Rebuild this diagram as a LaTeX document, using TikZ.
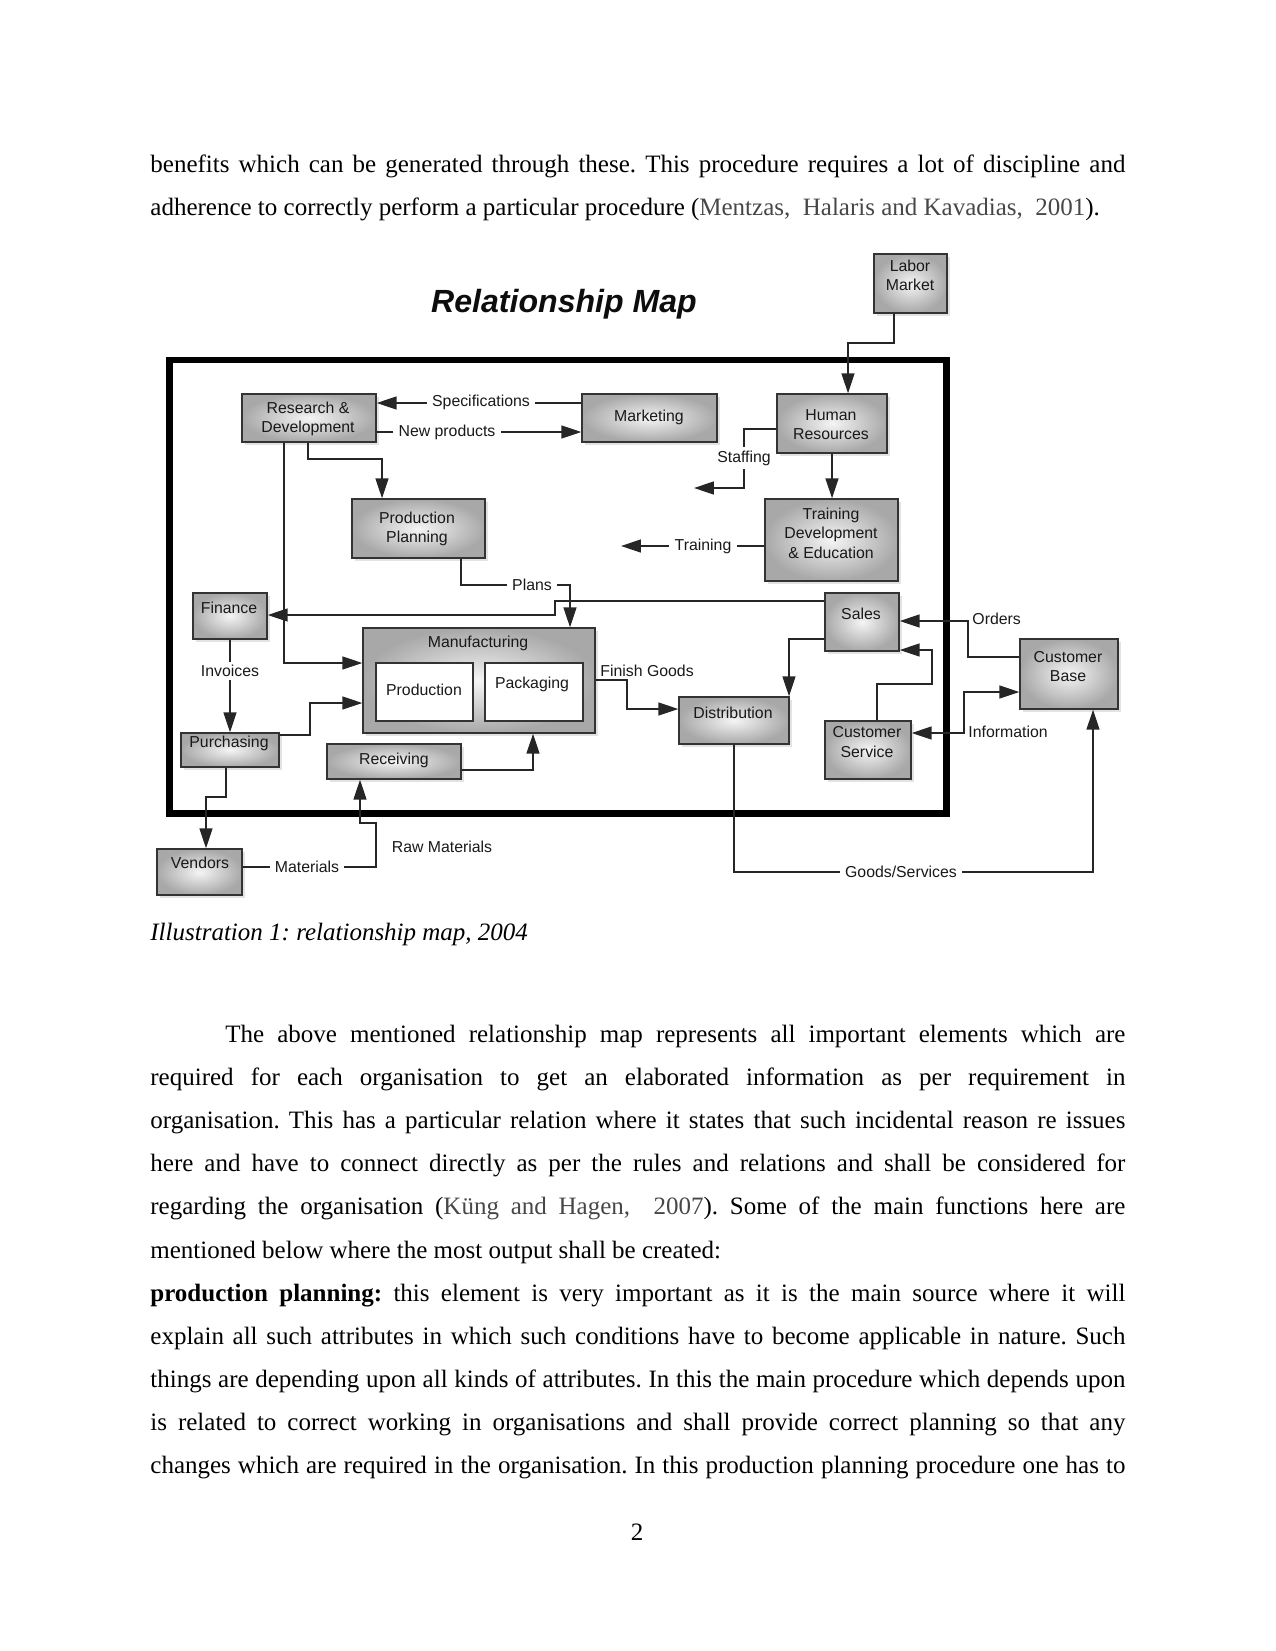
\documentclass[tikz,border=0pt]{standalone}
\usepackage{fontspec}
\setmainfont{Liberation Serif}
\newfontfamily\dsans{Liberation Sans}
\usetikzlibrary{arrows.meta,shadows}

\begin{document}
\frenchspacing
\begin{tikzpicture}[x=0.48pt,y=-0.48pt,
  body/.style={font=\fontsize{12}{14}\selectfont\frenchspacing, inner sep=0pt, anchor=base west},
  box/.style={draw=black!80, line width=0.7pt, inner sep=0pt,
    inner color=black!4, outer color=black!34,
    drop shadow={opacity=0.22, shadow xshift=1.6pt, shadow yshift=-1.6pt}},
  wbox/.style={draw=black!80, line width=0.7pt, inner sep=0pt, fill=white},
  sz/.style 2 args={minimum width=#1*0.48pt, minimum height=#2*0.48pt},
  btxt/.style={font=\dsans\fontsize{7.6}{9.3}\selectfont, align=center, inner sep=0pt, text=black!90},
  ltxt/.style={font=\dsans\fontsize{7.6}{9.3}\selectfont, inner sep=0pt, text=black!90},
  cut/.style={ltxt, fill=white, inner xsep=2.5pt, inner ysep=1.5pt},
  arr/.style={draw=black!85, line width=0.6pt, -{Triangle[length=9.5pt,width=6.2pt]}},
  arrboth/.style={draw=black!85, line width=0.6pt, {Triangle[length=9.5pt,width=6.2pt]}-{Triangle[length=9.5pt,width=6.2pt]}},
  frame/.style={draw=black, line width=2.9pt}
]
\useasboundingbox (0,0) rectangle (1275,1651);

% ---------- body text above ----------
\node[body] (l1) at (150,173) {\makebox[468pt][s]{benefits which can be generated through these. This procedure requires a lot of discipline and}};
\node[body] (l2) at (150,216) {adherence to correctly perform a particular procedure ({\color{black!72}Mentzas,\ \ Halaris and Kavadias,\ \ 2001}).};

% ---------- diagram ----------
\node[font=\dsans\bfseries\itshape\fontsize{15.4}{18}\selectfont, inner sep=0pt, anchor=base, text=black!95] (title) at (564,312) {Relationship Map};

\draw[frame] (169.5,360) rectangle (946.5,813.5);

% boxes
\node[box, sz={134}{48}] (rd) at (309,418) {};
\node[box, sz={135}{48}] (mkt) at (649.5,418) {};
\node[box, sz={110}{59}] (hr) at (832,423.5) {};
\node[box, sz={73}{59}] (lab) at (910.5,283.5) {};
\node[box, sz={133}{59}] (pp) at (418.5,528.5) {};
\node[box, sz={133}{82}] (tde) at (831.5,540) {};
\node[box, sz={74}{46}] (fin) at (230,616) {};
\node[box, sz={74}{58}] (sales) at (862,622) {};
\node[box, sz={232}{105}] (mfg) at (479,680.5) {};
\node[wbox, sz={97}{58}] (prod) at (424.5,692) {};
\node[wbox, sz={98}{58}] (pack) at (534,692) {};
\node[box, sz={110}{47}] (dist) at (734,720.5) {};
\node[box, sz={98}{70}] (cb) at (1069,674) {};
\node[box, sz={86}{58}] (cs) at (868,750) {};
\node[box, sz={98}{34}] (pur) at (230,750) {};
\node[box, sz={134}{35}] (rec) at (394,761.5) {};
\node[box, sz={85}{46}] (ven) at (199.5,872) {};

% box texts
\node[btxt] (rdT) at (308,419) {Research \&\\Development};
\node[btxt] (mktT) at (649,417) {Marketing};
\node[btxt] (hrT) at (831,424.5) {Human\\Resources};
\node[btxt] (labT) at (910,275.5) {Labor\\Market};
\node[btxt] (ppT) at (417,529) {Production\\Planning};
\node[btxt] (tdeT) at (831,533) {Training\\Development\\\& Education};
\node[btxt] (finT) at (229,608) {Finance};
\node[btxt] (salesT) at (861,614) {Sales};
\node[btxt] (mfgT) at (478,643) {Manufacturing};
\node[btxt] (prodT) at (424,690) {Production};
\node[btxt] (packT) at (532,684) {Packaging};
\node[btxt] (distT) at (733,713) {Distribution};
\node[btxt] (cbT) at (1068,666.5) {Customer\\Base};
\node[btxt] (csT) at (867,742) {Customer\\Service};
\node[btxt] (purT) at (229,743) {Purchasing};
\node[btxt] (recT) at (394,760) {Receiving};
\node[btxt] (venT) at (200,863) {Vendors};

% free ends
\coordinate (stafEnd) at (694,488);
\coordinate (trEnd) at (621,546);

% connectors
\draw[arr] (mkt.west |- 0,403) -- (rd.east |- 0,403);
\draw[arr] (rd.east |- 0,432) -- (mkt.west |- 0,432);
\draw[arr] (rd.south -| 308,0) -- (308,459) -- (382,459) -- (pp.north -| 382,0);
\draw[arr] (rd.south -| 284,0) -- (284,663) -- (mfg.west |- 0,663);
\draw[arr] (sales.west |- 0,601) -- (555,601) -- (555,615) -- (fin.east |- 0,615);
\draw[arr] (pp.south -| 461,0) -- (461,585) -- (570,585) -- (mfg.north -| 570,0);
\draw[arr] (lab.south -| 894,0) -- (894,343) -- (848,343) -- (hr.north -| 848,0);
\draw[arr] (hr.south -| 832,0) -- (tde.north -| 832,0);
\draw[arr] (hr.west |- 0,429) -- (744,429) -- (744,488) -- (stafEnd);
\draw[arr] (tde.west |- 0,546) -- (trEnd);
\draw[arr] (fin.south -| 230,0) -- (pur.north -| 230,0);
\draw[arr] (pur.east |- 0,735) -- (310,735) -- (310,703) -- (mfg.west |- 0,703);
\draw[arr] (pur.south -| 226,0) -- (226,797) -- (206,797) -- (ven.north -| 206,0);
\draw[arr] (ven.east |- 0,867) -- (376,867) -- (376,823) -- (360,823) -- (rec.south -| 360,0);
\draw[arr] (rec.east |- 0,770) -- (533,770) -- (mfg.south -| 533,0);
\draw[arr] (mfg.east |- 0,680) -- (627,680) -- (627,709) -- (dist.west |- 0,709);
\draw[arr] (sales.west |- 0,639) -- (789,639) -- (dist.north -| 789,0);
\draw[arr] (cs.north -| 877,0) -- (877,684) -- (932,684) -- (932,650) -- (sales.east |- 0,650);
\draw[arr] (cb.west |- 0,657) -- (968,657) -- (968,621) -- (sales.east |- 0,621);
\draw[arrboth] (cs.east |- 0,733) -- (964,733) -- (964,692) -- (cb.west |- 0,692);
\draw[arr] (dist.south -| 734,0) -- (734,872) -- (1093,872) -- (cb.south -| 1093,0);

% connector labels
\node[cut] (specL) at (481,402) {Specifications};
\node[cut] (newL) at (447,432) {New products};
\node[cut] (stafL) at (744,458) {Staffing};
\node[cut] (trL) at (703,546) {Training};
\node[cut] (plansL) at (532,585) {Plans};
\node[cut] (invL) at (230,671) {Invoices};
\node[ltxt, anchor=west] (fgL) at (600,671) {Finish Goods};
\node[ltxt, anchor=west] (ordL) at (972,619) {Orders};
\node[ltxt, anchor=west] (infL) at (968,732) {Information};
\node[cut] (matL) at (307,867) {Materials};
\node[ltxt] (rawL) at (442,847) {Raw Materials};
\node[cut] (gsL) at (901,872) {Goods/Services};

% ---------- caption ----------
\node[body] (cap) at (150,940) {\itshape Illustration 1: relationship map, 2004};

% ---------- body text below ----------
\node[body] (p1) at (225,1042.5) {\makebox[432pt][s]{The above mentioned relationship map represents all important elements which are}};
\node[body] (p2) at (150,1085.6) {\makebox[468pt][s]{required for each organisation to get an elaborated information as per requirement in}};
\node[body] (p3) at (150,1128.7) {\makebox[468pt][s]{organisation. This has a particular relation where it states that such incidental reason re issues}};
\node[body] (p4) at (150,1171.8) {\makebox[468pt][s]{here and have to connect directly as per the rules and relations and shall be considered for}};
\node[body] (p5) at (150,1214.9) {\makebox[468pt][s]{regarding the organisation ({\color{black!72}Küng and Hagen,\ \ 2007}). Some of the main functions here are}};
\node[body] (p6) at (150,1258) {mentioned below where the most output shall be created:};
\node[body] (p7) at (150,1301.1) {\makebox[468pt][s]{\textbf{production planning:} this element is very important as it is the main source where it will}};
\node[body] (p8) at (150,1344.2) {\makebox[468pt][s]{explain all such attributes in which such conditions have to become applicable in nature. Such}};
\node[body] (p9) at (150,1387.3) {\makebox[468pt][s]{things are depending upon all kinds of attributes. In this the main procedure which depends upon}};
\node[body] (p10) at (150,1430.4) {\makebox[468pt][s]{is related to correct working in organisations and shall provide correct planning so that any}};
\node[body] (p11) at (150,1473.5) {\makebox[468pt][s]{changes which are required in the organisation. In this production planning procedure one has to}};

\node[font=\fontsize{12}{14}\selectfont, inner sep=0pt, anchor=base] (pg) at (637,1540) {2};
\end{tikzpicture}
\end{document}
